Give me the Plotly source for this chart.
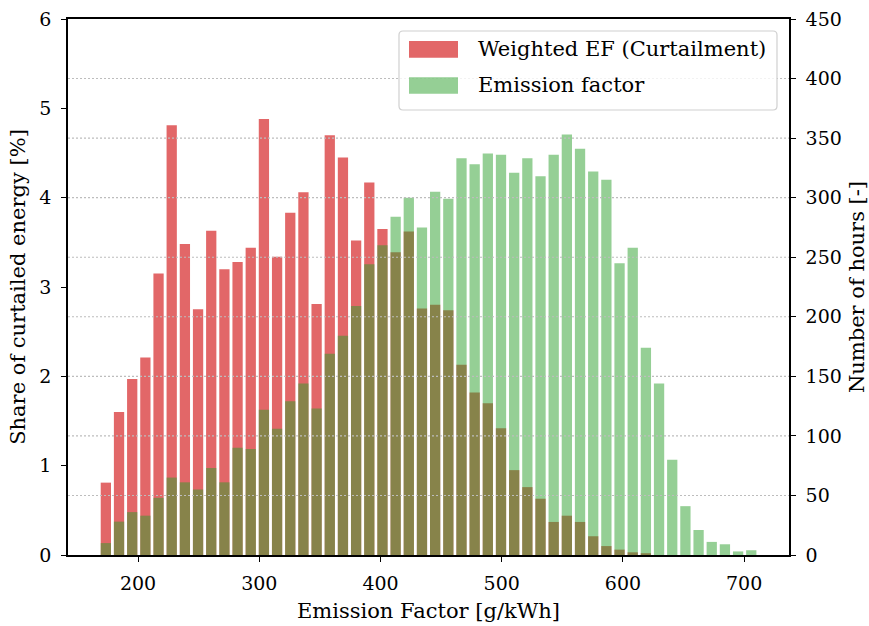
import numpy as np
import plotly.graph_objects as go

# Histogram bins of the grid emission factor [g/kWh]
EF_MIN = 168.0
EF_MAX = 711.3
N_BINS = 50

# Share of curtailed energy per emission-factor bin [%]
weighted_ef_share = [
    0.81, 1.60, 1.97, 2.21, 3.15, 4.81, 3.48, 2.75, 3.63, 3.20,
    3.28, 3.44, 4.88, 3.34, 3.83, 4.06, 2.81, 4.70, 4.45, 3.52,
    4.17, 3.65, 3.39, 3.62, 2.76, 2.80, 2.74, 2.13, 1.82, 1.70,
    1.42, 0.95, 0.76, 0.63, 0.37, 0.44, 0.37, 0.21, 0.10, 0.06,
    0.03, 0.02, 0.00, 0.00, 0.00, 0.00, 0.00, 0.00, 0.00, 0.00,
]

# Number of hours of the year per emission-factor bin [-]
ef_hours = [
    10, 28, 36, 33, 48, 65, 61, 55, 73, 61,
    90, 89, 122, 106, 129, 144, 123, 169, 184, 209,
    244, 260, 284, 300, 275, 305, 299, 333, 328, 337,
    336, 321, 333, 318, 336, 353, 341, 322, 315, 245,
    258, 174, 144, 80, 41, 21, 11, 9, 3, 4,
]

x_ticks = [200, 300, 400, 500, 600, 700]
left_ticks = [0, 1, 2, 3, 4, 5, 6]
right_ticks = [0, 50, 100, 150, 200, 250, 300, 350, 400, 450]

legend_labels = ["Weighted EF (Curtailment)", "Emission factor"]

RED = "rgba(214,39,40,0.7)"
GREEN = "rgba(44,160,44,0.5)"
FONT = "DejaVu Serif"
TICK_SIZE = 19
TITLE_SIZE = 21

edges = np.linspace(EF_MIN, EF_MAX, N_BINS + 1)
centers = 0.5 * (edges[:-1] + edges[1:])
bar_w = 0.78 * (edges[1] - edges[0])

fig = go.Figure()
fig.add_trace(go.Bar(x=centers, y=weighted_ef_share, width=bar_w,
                     marker=dict(color=RED, line=dict(width=0)),
                     name=legend_labels[0], showlegend=False, yaxis="y"))
fig.add_trace(go.Bar(x=centers, y=ef_hours, width=bar_w,
                     marker=dict(color=GREEN, line=dict(width=0)),
                     name=legend_labels[1], showlegend=False, yaxis="y2"))

axis_common = dict(
    showline=True, linecolor="black", linewidth=1.5,
    ticks="outside", ticklen=5, tickwidth=1.3, tickcolor="black",
    showgrid=False, zeroline=False, automargin=False,
    tickfont=dict(family=FONT, size=TICK_SIZE, color="black"),
)

fig.update_layout(
    width=869, height=626,
    margin=dict(l=68, r=80, t=19, b=71),
    paper_bgcolor="white", plot_bgcolor="white",
    barmode="overlay",
    font=dict(family=FONT, color="black"),
    xaxis=dict(range=[142.2, 737.0], tickvals=x_ticks, mirror=True,
               ticklabelstandoff=5,
               title=dict(text="Emission Factor [g/kWh]", standoff=11,
                          font=dict(family=FONT, size=TITLE_SIZE)),
               **axis_common),
    yaxis=dict(range=[0, 6], tickvals=left_ticks, ticklabelstandoff=6,
               title=dict(text="Share of curtailed energy [%]", standoff=8,
                          font=dict(family=FONT, size=TITLE_SIZE)),
               **axis_common),
    yaxis2=dict(range=[0, 450], tickvals=right_ticks, overlaying="y",
                side="right", ticklabelstandoff=6,
                title=dict(text="Number of hours [-]", standoff=10,
                           font=dict(family=FONT, size=TITLE_SIZE)),
                **axis_common),
)

# Dotted horizontal grid at the right-axis ticks, drawn over the bars
for v in right_ticks[1:-1]:
    fig.add_shape(type="line", xref="paper", x0=0, x1=1, yref="y2", y0=v, y1=v,
                  layer="above", line=dict(color="#bdbdbd", width=1.1, dash="2px,2px"))

# Legend box with rounded corners (paper coordinates)
W_PX, H_PX = 721.0, 536.0
def px(xp):
    return (xp - 68.0) / W_PX
def py(yp):
    return (555.0 - yp) / H_PX

bx0, bx1, by0, by1 = px(399), px(777), py(110), py(31)
rx, ry = 4 / W_PX, 4 / H_PX
box_path = (f"M{bx0+rx},{by0} L{bx1-rx},{by0} Q{bx1},{by0} {bx1},{by0+ry} "
            f"L{bx1},{by1-ry} Q{bx1},{by1} {bx1-rx},{by1} "
            f"L{bx0+rx},{by1} Q{bx0},{by1} {bx0},{by1-ry} "
            f"L{bx0},{by0+ry} Q{bx0},{by0} {bx0+rx},{by0} Z")
fig.add_shape(type="path", path=box_path, xref="paper", yref="paper", layer="above",
              fillcolor="rgba(255,255,255,0.8)", line=dict(color="#d0d0d0", width=1.2))

for label, color, (top, bot) in zip(legend_labels, [RED, GREEN], [(41, 57.7), (77.3, 93.7)]):
    fig.add_shape(type="rect", xref="paper", yref="paper", layer="above",
                  x0=px(409), x1=px(458), y0=py(bot), y1=py(top),
                  fillcolor=color, line=dict(width=0))
    fig.add_annotation(xref="paper", yref="paper", x=px(476), y=py((top + bot) / 2),
                       text=label, showarrow=False, xanchor="left", yanchor="middle",
                       font=dict(family=FONT, size=21, color="black"))

fig.write_html("out.html")
